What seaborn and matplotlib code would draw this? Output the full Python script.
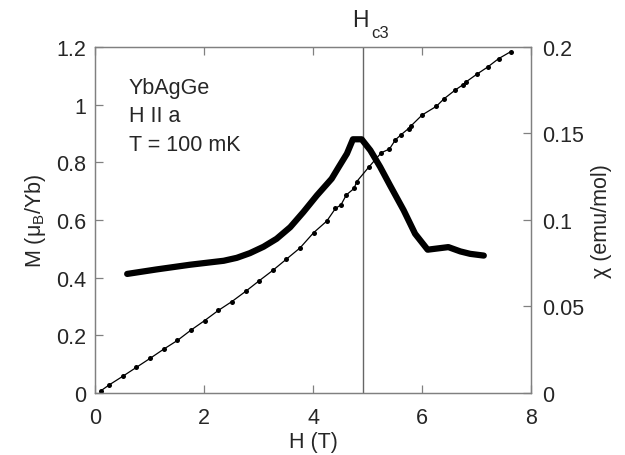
import matplotlib
matplotlib.use('Agg')
import matplotlib.pyplot as plt
import seaborn as sns
import pandas as pd

# magnetization M(H), thin line with dots (left axis)
H_M = [0.11, 0.26, 0.51, 0.76, 1.01, 1.26, 1.51, 1.76, 2.01, 2.26, 2.51, 2.76,
       3.01, 3.26, 3.51, 3.76, 4.01, 4.25, 4.41, 4.51, 4.61, 4.75, 4.80, 5.02,
       5.25, 5.40, 5.51, 5.61, 5.75, 5.80, 6.00, 6.26, 6.40, 6.61, 6.75, 6.80,
       7.00, 7.20, 7.40, 7.62]
M = [0.008, 0.028, 0.058, 0.089, 0.120, 0.152, 0.182, 0.218, 0.251, 0.286, 0.317, 0.352,
     0.389, 0.425, 0.464, 0.503, 0.556, 0.596, 0.640, 0.652, 0.687, 0.709, 0.733, 0.783,
     0.833, 0.846, 0.878, 0.895, 0.917, 0.927, 0.964, 0.994, 1.020, 1.051, 1.069, 1.078,
     1.105, 1.130, 1.159, 1.183]

# susceptibility chi(H), thick line (right axis)
H_chi = [0.59, 1.13, 1.74, 2.36, 2.60, 2.84, 3.09, 3.33, 3.58, 3.82, 4.07, 4.34,
         4.47, 4.62, 4.73, 4.89, 5.05, 5.23, 5.41, 5.66, 5.87, 6.10, 6.48, 6.70,
         6.88, 7.13]
chi = [0.0688, 0.0714, 0.0741, 0.0764, 0.0781, 0.0808, 0.0845, 0.0891, 0.0958, 0.1045,
       0.1142, 0.1238, 0.1306, 0.1383, 0.1466, 0.1466, 0.1402, 0.1306, 0.1200, 0.1056,
       0.0920, 0.0828, 0.0843, 0.0818, 0.0804, 0.0794]

H_c3 = 4.91

x_ticks = [0, 2, 4, 6, 8]
m_ticks = [0, 0.2, 0.4, 0.6, 0.8, 1, 1.2]
chi_ticks = [0, 0.05, 0.1, 0.15, 0.2]
info_lines = ['YbAgGe', 'H II a', 'T = 100 mK']

df_m = pd.DataFrame({'H': H_M, 'M': M})
df_chi = pd.DataFrame({'H': H_chi, 'chi': chi})

sns.set_style('ticks')
plt.rcParams['font.family'] = ['Liberation Sans', 'DejaVu Sans']
plt.rcParams['mathtext.fontset'] = 'custom'
plt.rcParams['mathtext.rm'] = 'Liberation Sans'
plt.rcParams['mathtext.it'] = 'Liberation Sans'

FS = 15.5
fig = plt.figure(figsize=(6.25, 4.56), dpi=100)
ax = fig.add_axes([0.152, 0.136, 0.698, 0.759])
ax2 = ax.twinx()

sns.lineplot(data=df_m, x='H', y='M', ax=ax, color='black', lw=0.9,
             marker='o', markersize=3.6, markeredgewidth=0, sort=False)
sns.lineplot(data=df_chi, x='H', y='chi', ax=ax2, color='black', lw=4.5,
             sort=False)
ax.axvline(H_c3, color='#666666', lw=1.0, zorder=0)

ax.set_xlim(0, 8)
ax.set_ylim(0, 1.2)
ax2.set_ylim(0, 0.2)
ax.set_xticks(x_ticks)
ax.set_xticklabels([str(t) for t in x_ticks])
ax.set_yticks(m_ticks)
ax.set_yticklabels([f'{t:g}' for t in m_ticks])
ax2.set_yticks(chi_ticks)
ax2.set_yticklabels([f'{t:g}' for t in chi_ticks])

for a in (ax, ax2):
    for s in a.spines.values():
        s.set_color('#808080')
        s.set_linewidth(0.9)
ax.tick_params(axis='x', direction='in', top=True, length=6, width=0.9,
               color='#808080', labelsize=FS, pad=10)
ax.tick_params(axis='y', direction='in', length=6, width=0.9,
               color='#808080', labelsize=FS, pad=6.5)
ax2.tick_params(axis='y', direction='in', length=6, width=0.9,
                color='#808080', labelsize=FS, pad=7.5)

ax.set_xlabel('H (T)', fontsize=FS, labelpad=2)
ax.set_ylabel(r'M ($\mu_B$/Yb)', fontsize=FS, labelpad=6)
ax2.set_ylabel('χ (emu/mol)', fontsize=FS, labelpad=5)

for i, line in enumerate(info_lines):
    ax.text(0.62, 1.0405 - i * 0.0988, line, fontsize=FS,
            va='baseline', ha='left')
# H_c3 label: big H, lowered subscript
ax.text(4.72, 1.273, 'H', fontsize=16.5, ha='left', va='baseline')
ax.text(5.07, 1.235, 'c3', fontsize=12, ha='left', va='baseline')

fig.savefig('out.png', dpi=100)
